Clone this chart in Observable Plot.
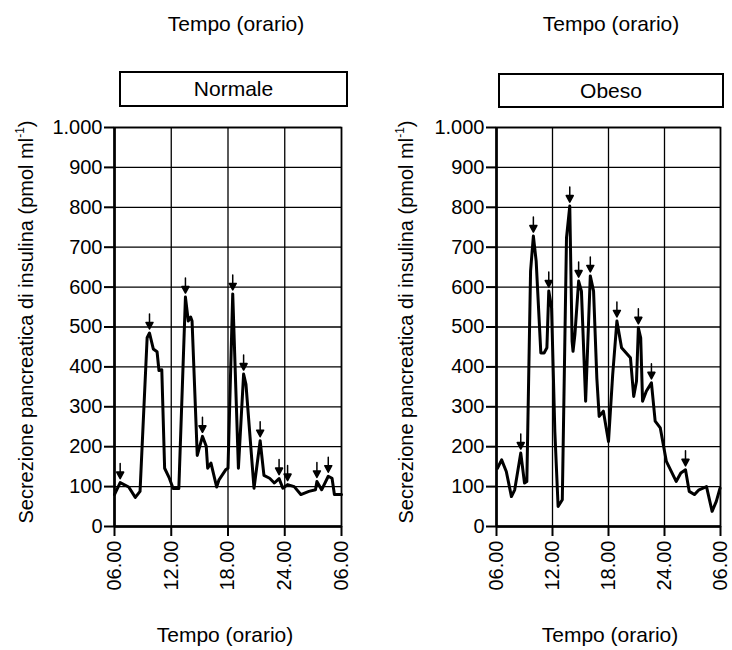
<!DOCTYPE html>
<html><head><meta charset="utf-8">
<script src="https://cdn.jsdelivr.net/npm/d3@7"></script>
<script src="https://cdn.jsdelivr.net/npm/@observablehq/plot@0.6"></script>
<style>
body{margin:0;background:#fff;font-family:"Liberation Sans",Arial,Helvetica,sans-serif;color:#000;}
#wrap{position:relative;width:732px;height:650px;overflow:hidden;}
.panel{position:absolute;top:0;height:650px;}
.title{position:absolute;font-size:21px;line-height:24px;white-space:nowrap;transform:translateX(-50%);}
.box{position:absolute;border:2px solid #000;box-sizing:border-box;font-size:21px;line-height:32px;text-align:center;}
.ylab{position:absolute;font-size:20px;white-space:nowrap;transform:translate(-50%,-50%) rotate(-90deg);}
.ylab sup{font-size:12px;vertical-align:9px;}
</style></head><body><div id="wrap"></div>
<script>
const xTickHours = [6, 12, 18, 24, 30];
const xTickLabels = ["06.00", "12.00", "18.00", "24.00", "06.00"];
const yTicks = [0, 100, 200, 300, 400, 500, 600, 700, 800, 900, 1000];
const yTickLabels = ["0", "100", "200", "300", "400", "500", "600", "700", "800", "900", "1.000"];

const panelNames = ["Normale", "Obeso"];
const titleText = "Tempo (orario)";
const yLabelText = "Secrezione pancreatica di insulina (pmol ml";

const normHours = [6.0, 6.6, 7.5, 8.2, 8.7, 9.45, 9.7, 10.1, 10.5, 10.7, 11.0, 11.3, 11.8, 12.2, 12.8, 13.5, 13.8, 14.05, 14.2, 14.75, 15.3, 15.7, 15.85, 16.2, 16.8, 17.05, 17.75, 18.0, 18.5, 19.1, 19.65, 19.9, 20.75, 21.4, 21.8, 22.4, 22.9, 23.4, 23.8, 24.3, 25.0, 25.7, 26.55, 27.25, 27.4, 27.9, 28.6, 29.0, 29.25, 30.0];
const normValues = [80, 110, 99, 73, 88, 473, 485, 445, 438, 391, 393, 146, 121, 95, 95, 575, 515, 525, 515, 178, 226, 201, 146, 159, 99, 117, 142, 146, 583, 146, 382, 356, 96, 215, 128, 121, 109, 120, 96, 105, 100, 80, 88, 92, 113, 92, 126, 121, 80, 80];
const normArrowHours = [6.6, 9.7, 13.5, 15.3, 18.5, 19.65, 21.4, 23.4, 24.3, 27.4, 28.6];

const obesoHours = [6.1, 6.55, 7.05, 7.6, 7.95, 8.6, 9.0, 9.25, 9.65, 9.95, 10.25, 10.75, 11.1, 11.4, 11.6, 11.9, 12.25, 12.6, 13.05, 13.5, 13.85, 14.1, 14.2, 14.4, 14.8, 15.1, 15.55, 16.05, 16.4, 16.75, 17.0, 17.45, 18.0, 18.45, 18.9, 19.4, 20.35, 20.7, 21.0, 21.2, 21.45, 21.65, 22.05, 22.6, 23.0, 23.55, 24.2, 25.25, 25.75, 26.25, 26.65, 27.2, 27.7, 28.5, 29.1, 29.55, 29.95];
const obesoValues = [146, 167, 138, 75, 92, 184, 109, 113, 640, 728, 665, 435, 435, 448, 590, 548, 238, 50, 67, 724, 803, 464, 439, 481, 615, 590, 314, 628, 590, 372, 276, 289, 213, 381, 515, 448, 423, 326, 364, 498, 473, 314, 339, 360, 264, 247, 163, 113, 134, 142, 88, 80, 92, 100, 38, 63, 96];
const obesoArrowHours = [8.6, 9.95, 11.6, 13.85, 14.8, 16.05, 18.9, 21.2, 22.6, 26.25];

const arrowShape = {
  draw(context, l) {
    context.moveTo(0, 0);
    context.lineTo(0, -l + 6);
    context.moveTo(0, -l);
    context.lineTo(-3.5, -l + 6.5);
    context.lineTo(3.5, -l + 6.5);
    context.closePath();
  }
};

const panels = [
  {name: panelNames[0], hours: normHours, values: normValues, arrows: normArrowHours,
   left: 0, width: 366, mL: 114, mR: 25,
   topTitleX: 236, bottomTitleX: 225, box: [119, 71, 229, 36], yLabX: 25},
  {name: panelNames[1], hours: obesoHours, values: obesoValues, arrows: obesoArrowHours,
   left: 366, width: 366, mL: 130, mR: 12,
   topTitleX: 611, bottomTitleX: 610, box: [498, 73, 226, 35], yLabX: 405}
];

const wrap = document.getElementById("wrap");

for (const p of panels) {
  const data = p.hours.map((h, i) => ({h, v: p.values[i]}));
  const arrowData = p.arrows.map(h => ({h, v: p.values[p.hours.indexOf(h)]}));

  const chart = Plot.plot({
    width: p.width,
    height: 650,
    marginLeft: p.mL,
    marginRight: p.mR,
    marginTop: 127,
    marginBottom: 124,
    style: {fontFamily: "'Liberation Sans', Arial, sans-serif", fontSize: "20px", color: "#000", background: "transparent", overflow: "visible"},
    x: {domain: [6, 30]},
    y: {domain: [0, 1000]},
    marks: [
      Plot.gridY(yTicks, {stroke: "#000", strokeOpacity: 1, strokeWidth: 1.3}),
      Plot.gridX(xTickHours, {stroke: "#000", strokeOpacity: 1, strokeWidth: 1.3}),
      Plot.frame({stroke: "#000", strokeWidth: 1.6}),
      Plot.ruleX([6], {stroke: "#000", strokeWidth: 2.6}),
      Plot.ruleY([0], {stroke: "#000", strokeWidth: 2.6}),
      Plot.axisY({ticks: yTicks, tickFormat: d => yTickLabels[yTicks.indexOf(d)], tickSize: 10, tickPadding: 2, strokeWidth: 2, label: null, fontSize: 20}),
      Plot.axisX({ticks: xTickHours, tickFormat: d => xTickLabels[xTickHours.indexOf(d)], tickRotate: -90, tickSize: 10, tickPadding: 4, strokeWidth: 2, label: null, fontSize: 20}),
      Plot.line(data, {x: "h", y: "v", stroke: "#000", strokeWidth: 3, strokeLinejoin: "round"}),
      Plot.vector(arrowData, {x: "h", y: "v", rotate: 180, anchor: "end", length: 15, dy: -4, shape: arrowShape, stroke: "#000", fill: "#000", strokeWidth: 1.5})
    ]
  });

  const div = document.createElement("div");
  div.className = "panel";
  div.style.left = p.left + "px";
  div.style.width = p.width + "px";
  div.appendChild(chart);
  wrap.appendChild(div);

  const t1 = document.createElement("div");
  t1.className = "title";
  t1.textContent = titleText;
  t1.style.left = p.topTitleX + "px";
  t1.style.top = "12px";
  wrap.appendChild(t1);

  const t2 = document.createElement("div");
  t2.className = "title";
  t2.textContent = titleText;
  t2.style.left = p.bottomTitleX + "px";
  t2.style.top = "623px";
  wrap.appendChild(t2);

  const box = document.createElement("div");
  box.className = "box";
  box.textContent = p.name;
  box.style.left = p.box[0] + "px";
  box.style.top = p.box[1] + "px";
  box.style.width = p.box[2] + "px";
  box.style.height = p.box[3] + "px";
  wrap.appendChild(box);

  const yl = document.createElement("div");
  yl.className = "ylab";
  yl.innerHTML = yLabelText + "<sup>-1</sup>)";
  yl.style.left = p.yLabX + "px";
  yl.style.top = "322px";
  wrap.appendChild(yl);
}
</script>
</body></html>
